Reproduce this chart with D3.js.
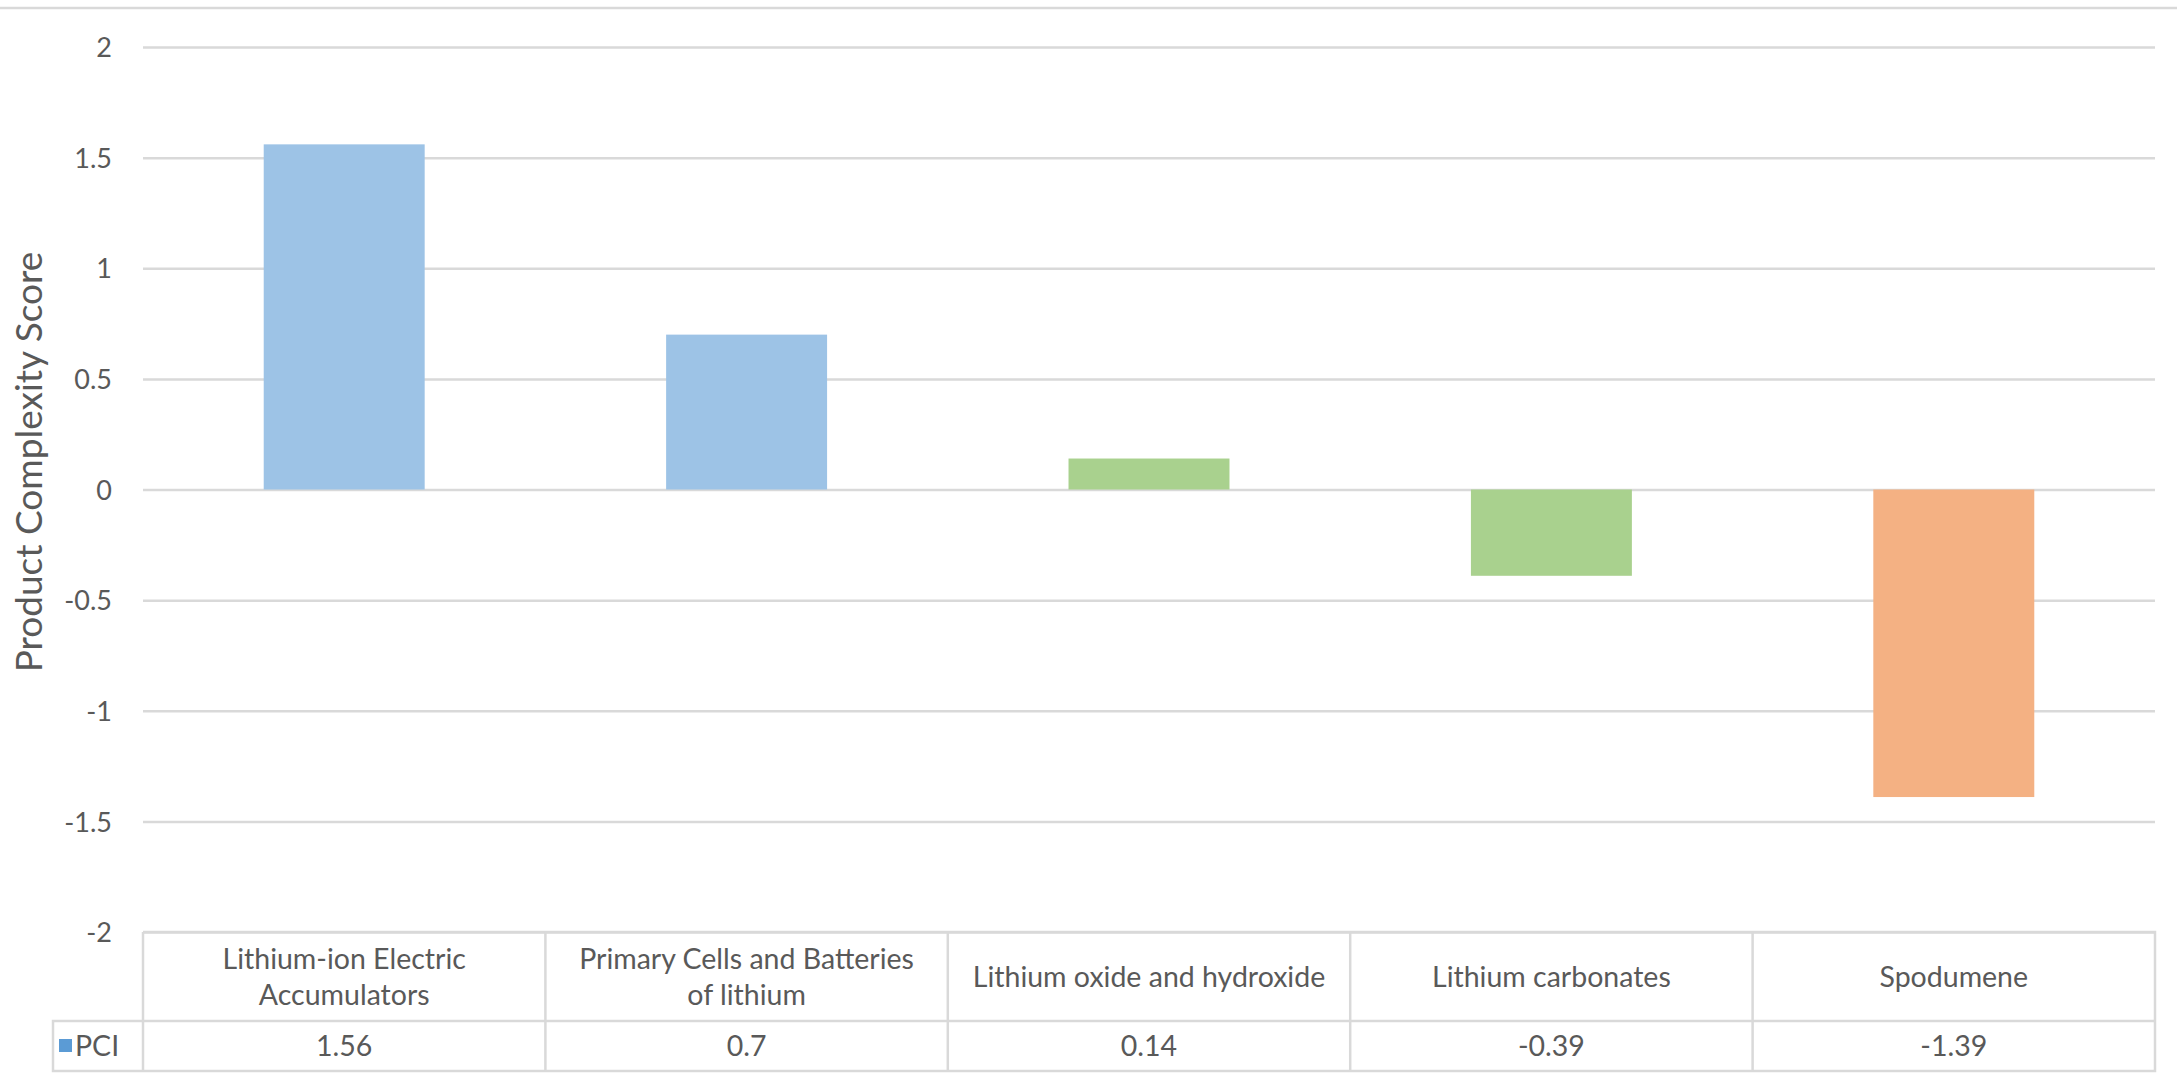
<!DOCTYPE html>
<html>
<head>
<meta charset="utf-8">
<script src="https://cdn.jsdelivr.net/npm/d3@7"></script>
<style>
  body { margin: 0; background: #fff; }
  svg text { font-family: Lato, 'Open Sans', sans-serif; fill: #595959; }
  .grid line { stroke: #d9d9d9; stroke-width: 2.5; }
  .cellline { stroke: #d9d9d9; stroke-width: 2.5; fill: none; }
</style>
</head>
<body>
<svg width="2177" height="1081"></svg>
<script>
// chart data
var categories = [
  'Lithium-ion Electric Accumulators',
  'Primary Cells and Batteries of lithium',
  'Lithium oxide and hydroxide',
  'Lithium carbonates',
  'Spodumene'
];
// how the header cells wrap (lines per category)
var categoryLines = [
  ['Lithium-ion Electric', 'Accumulators'],
  ['Primary Cells and Batteries', 'of lithium'],
  ['Lithium oxide and hydroxide'],
  ['Lithium carbonates'],
  ['Spodumene']
];
var pciValues = [1.56, 0.7, 0.14, -0.39, -1.39];
var valueLabels = ['1.56', '0.7', '0.14', '-0.39', '-1.39'];
var barColors = ['#9dc3e6', '#9dc3e6', '#a9d18e', '#a9d18e', '#f4b183'];
var yTicks = [2, 1.5, 1, 0.5, 0, -0.5, -1, -1.5, -2];
var seriesName = 'PCI';

var svg = d3.select('svg');
var plot = {l: 143, r: 2155, t: 47, b: 932};
var tableRow = {head: 1021, bottom: 1071};
var legendLeft = 53;
var tickFont = 27;
var tableFont = 28.5;
var titleFont = 37;

// thin line across the top of the picture
svg.append('line')
    .attr('class', 'cellline')
    .attr('x1', 0).attr('x2', 2177)
    .attr('y1', 8).attr('y2', 8);

var xScale = d3.scaleBand()
    .domain(categories)
    .range([plot.l, plot.r])
    .paddingInner(0.6)
    .paddingOuter(0.3);

var yScale = d3.scaleLinear()
    .domain([-2, 2])
    .range([plot.b, plot.t]);

var yAxis = d3.axisLeft(yScale)
    .tickValues(yTicks)
    .tickSize(-(plot.r - plot.l))
    .tickPadding(31)
    .tickFormat(function(d){ return String(d); });

var axisG = svg.append('g')
    .attr('class', 'grid')
    .attr('transform', 'translate(' + plot.l + ',0)')
    .call(yAxis);
axisG.select('.domain').remove();
axisG.selectAll('text')
    .style('font-size', tickFont + 'px')
    .attr('dy', '0.36em');

// bars
svg.selectAll('.bar')
    .data(pciValues)
    .enter()
    .append('rect')
    .attr('class', 'bar')
    .attr('x', function(d, i){ return xScale(categories[i]); })
    .attr('width', xScale.bandwidth())
    .attr('y', function(d){ return yScale(Math.max(0, d)); })
    .attr('height', function(d){ return Math.abs(yScale(d) - yScale(0)); })
    .attr('fill', function(d, i){ return barColors[i]; });

// y axis title
svg.append('text')
    .attr('transform', 'translate(' + [42, 462] + ')rotate(-90)')
    .attr('text-anchor', 'middle')
    .style('font-size', titleFont + 'px')
    .text('Product Complexity Score');

// data table under the chart
var step = xScale.step();
var tableG = svg.append('g');

// outer frame pieces
tableG.append('path')
    .attr('class', 'cellline')
    .attr('d', 'M' + plot.l + ',' + plot.b + 'H' + plot.r + 'V' + tableRow.bottom +
        'H' + legendLeft + 'V' + tableRow.head + 'H' + plot.r);
tableG.append('line')
    .attr('class', 'cellline')
    .attr('x1', plot.l).attr('x2', plot.l)
    .attr('y1', plot.b).attr('y2', tableRow.bottom);
tableG.selectAll('.sep')
    .data(categories.slice(1))
    .enter()
    .append('line')
    .attr('class', 'cellline')
    .attr('x1', function(d){ return xScale(d) - step * 0.3; })
    .attr('x2', function(d){ return xScale(d) - step * 0.3; })
    .attr('y1', plot.b).attr('y2', tableRow.bottom);

var headMid = (plot.b + tableRow.head) / 2;
var lineH = 36;
tableG.selectAll('.head')
    .data(categoryLines)
    .enter()
    .append('text')
    .attr('class', 'head')
    .attr('text-anchor', 'middle')
    .style('font-size', tableFont + 'px')
    .each(function(lines, i){
        var t = d3.select(this);
        var cx = xScale(categories[i]) + xScale.bandwidth() / 2;
        var y0 = headMid - (lines.length - 1) * lineH / 2;
        lines.forEach(function(line, k){
            t.append('tspan')
                .attr('x', cx)
                .attr('y', y0 + k * lineH)
                .attr('dy', '0.36em')
                .text(line);
        });
    });

var valMid = (tableRow.head + tableRow.bottom) / 2;
tableG.selectAll('.val')
    .data(valueLabels)
    .enter()
    .append('text')
    .attr('class', 'val')
    .attr('text-anchor', 'middle')
    .attr('x', function(d, i){ return xScale(categories[i]) + xScale.bandwidth() / 2; })
    .attr('y', valMid)
    .attr('dy', '0.36em')
    .style('font-size', tableFont + 'px')
    .text(function(d){ return d; });

// legend key in the table
tableG.append('rect')
    .attr('x', 59).attr('y', valMid - 7)
    .attr('width', 13).attr('height', 13)
    .attr('fill', '#5b9bd5');
tableG.append('text')
    .attr('x', 75).attr('y', valMid)
    .attr('dy', '0.36em')
    .style('font-size', tableFont + 'px')
    .text(seriesName);
</script>
</body>
</html>
